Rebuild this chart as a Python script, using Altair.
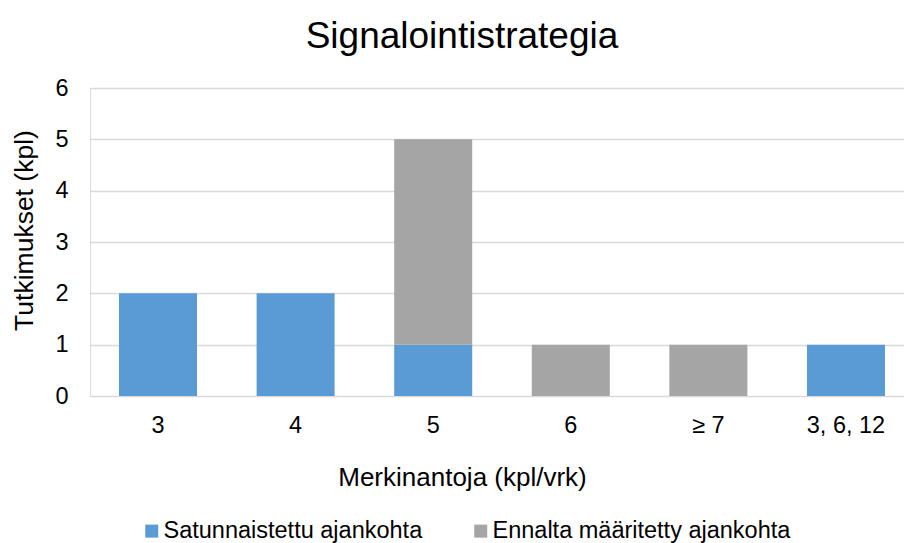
import altair as alt
import pandas as pd

categories = ["3", "4", "5", "6", "≥ 7", "3, 6, 12"]
series_names = ["Satunnaistettu ajankohta", "Ennalta määritetty ajankohta"]
satunnaistettu = [2, 2, 1, 0, 0, 1]
ennalta = [0, 0, 4, 1, 1, 0]
colors = ["#5B9BD5", "#A5A5A5"]

rows = []
for i, c in enumerate(categories):
    rows.append({"cat": c, "series": series_names[0], "value": satunnaistettu[i], "ord": 0})
    rows.append({"cat": c, "series": series_names[1], "value": ennalta[i], "ord": 1})
df = pd.DataFrame(rows)

FONT = "Liberation Sans"

chart = alt.Chart(df).mark_bar().encode(
    x=alt.X("cat:N", sort=categories,
            scale=alt.Scale(paddingInner=0.433, paddingOuter=0.1745, align=0.604),
            axis=alt.Axis(title="Merkinantoja (kpl/vrk)", labelAngle=0, ticks=False, domain=False,
                          labelFontSize=23.5, labelColor="#000000", labelFont=FONT, labelPadding=17,
                          titleFontSize=26, titleFont=FONT, titleFontWeight="normal", titleColor="#000000",
                          titleX=372, titleY=89, titleBaseline="alphabetic", titleAlign="center")),
    y=alt.Y("value:Q", stack="zero",
            scale=alt.Scale(domain=[0, 6], nice=False),
            axis=alt.Axis(title="Tutkimukset (kpl)", values=[0, 1, 2, 3, 4, 5, 6], format="d",
                          ticks=False, domain=False, grid=True, gridColor="#D9D9D9", gridWidth=1.5,
                          labelFontSize=23.5, labelColor="#000000", labelFont=FONT, labelPadding=22,
                          titleFontSize=26.5, titleFont=FONT, titleFontWeight="normal", titleColor="#000000",
                          titleAngle=-90, titleX=-66, titleY=142, titleBaseline="middle", titleAlign="center")),
    color=alt.Color("series:N", sort=series_names,
                    scale=alt.Scale(domain=series_names, range=colors),
                    legend=alt.Legend(title=None, orient="none", direction="horizontal",
                                      legendX=50, legendY=431, symbolType="square", symbolSize=169,
                                      symbolStrokeWidth=0, labelFontSize=23.5, labelFont=FONT,
                                      labelColor="#000000", labelOffset=0, columnPadding=46,
                                      labelLimit=500)),
    order=alt.Order("ord:Q"),
).properties(
    width=814,
    height=308,
    title=alt.TitleParams("Signalointistrategia", fontSize=37, font=FONT, fontWeight="normal",
                          color="#000000", anchor="middle", dx=-35, offset=20),
    autosize=alt.AutoSizeParams(type="none"),
    padding={"left": 90, "top": 88, "right": 0, "bottom": 147},
).configure_view(stroke=None).configure(background="white")

chart.save("out.html", embed_options={"renderer": "svg", "actions": False})
